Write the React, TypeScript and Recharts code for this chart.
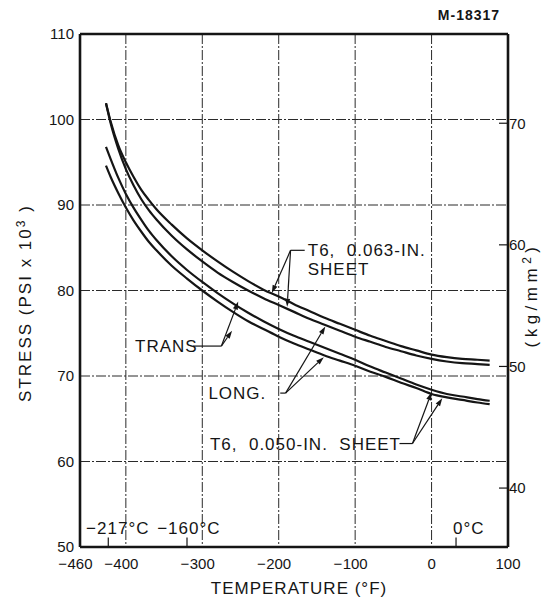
import React from "react";
import { LineChart, Line, XAxis, YAxis, CartesianGrid, ReferenceLine, ReferenceDot } from "recharts";

// temperature (°F) sampled along the curves
const tempF = [-426, -420, -410, -400, -390, -380, -370, -360, -340, -320, -300, -280, -260, -240, -220, -200, -180, -160, -140, -120, -100, -80, -60, -40, -20, 0, 20, 40, 60, 76];
// stress, psi x 10^3
const trans063 = [101.9, 99.8, 97.0, 95.0, 93.3, 91.8, 90.6, 89.5, 87.7, 86.1, 84.7, 83.4, 82.2, 81.1, 80.1, 79.3, 78.4, 77.6, 76.8, 76.1, 75.4, 74.7, 74.1, 73.5, 73.0, 72.5, 72.2, 72.0, 71.9, 71.8];
const long063 = [101.9, 99.6, 96.6, 94.2, 92.3, 90.7, 89.4, 88.3, 86.4, 84.8, 83.4, 82.1, 81.0, 80.0, 79.1, 78.3, 77.5, 76.7, 76.0, 75.3, 74.6, 74.0, 73.4, 72.9, 72.4, 72.0, 71.7, 71.5, 71.4, 71.3];
const trans050 = [96.8, 95.4, 93.2, 91.3, 89.7, 88.3, 87.0, 85.9, 84.0, 82.4, 81.0, 79.7, 78.5, 77.4, 76.4, 75.5, 74.7, 74.0, 73.3, 72.6, 71.9, 71.1, 70.4, 69.7, 69.0, 68.4, 67.9, 67.6, 67.3, 67.1];
const long050 = [94.6, 93.3, 91.4, 89.7, 88.2, 86.9, 85.7, 84.7, 82.9, 81.4, 80.0, 78.7, 77.5, 76.4, 75.5, 74.6, 73.8, 73.1, 72.4, 71.8, 71.2, 70.5, 69.9, 69.2, 68.6, 67.9, 67.5, 67.2, 66.9, 66.7];

const xTicks = [-460, -400, -300, -200, -100, 0, 100];
const yTicks = [50, 60, 70, 80, 90, 100, 110];
const kgTicks = [40, 50, 60, 70];
const KSI_PER_KG = 1.42233;

// annotation text, placed in data units (°F, ksi)
const notes = [
  { text: "T6,  0.063-IN.", f: -162, s: 84.7 },
  { text: "SHEET", f: -162, s: 82.5 },
  { text: "TRANS", f: -388, s: 73.5 },
  { text: "LONG.", f: -292, s: 68.0 },
  { text: "T6,  0.050-IN.  SHEET", f: -290, s: 62.1 },
  { text: "−217°C", f: -452, s: 52.2 },
  { text: "−160°C", f: -359, s: 52.2 },
  { text: "0°C", f: 28, s: 52.2 },
];
const leaders = [
  [-166, 84.7, -184.5, 84.7],
  [-312, 73.5, -275, 73.5],
  [-198, 68.0, -191, 68.0],
  [-42, 62.1, -25, 62.1],
];
const arrows = [
  [-184.5, 84.7, -209, 79.7],
  [-184.5, 84.7, -189, 78.1],
  [-275, 73.5, -253, 78.7],
  [-275, 73.5, -261, 75.3],
  [-191, 68.0, -139, 75.8],
  [-191, 68.0, -141, 72.2],
  [-25, 62.1, 0, 68.1],
  [-25, 62.1, 14, 67.4],
];
const celsiusMarks = [-423, -320, 32];

const data = tempF.map((t, i) => ({
  t,
  trans063: trans063[i],
  long063: long063[i],
  trans050: trans050[i],
  long050: long050[i],
}));

const font = "'Liberation Sans', Arial, sans-serif";
const ink = "#151515";

const LeftTick = (p: any) => (
  <text x={p.x - 6} y={p.y} dy="0.36em" textAnchor="end" fontSize={15} fontFamily={font} fill={ink}>
    {p.payload.value}
  </text>
);

const RightTick = (p: any) => (
  <g>
    <line x1={p.x - 9} x2={p.x} y1={p.y} y2={p.y} stroke={ink} strokeWidth={1.2} />
    <text x={p.x + 1} y={p.y} dy="0.36em" fontSize={15} fontFamily={font} fill={ink}>
      {p.payload.value}
    </text>
  </g>
);

// digits centred on the tick, the minus sign hangs to the left
const BottomTick = (p: any) => {
  const v = p.payload.value as number;
  const digits = `${Math.abs(v)}`;
  const half = (digits.length * 8.3) / 2;
  return (
    <g fontSize={15} fontFamily={font} fill={ink}>
      <text x={p.x} y={p.y + 11} dy="0.71em" textAnchor="middle">
        {digits}
      </text>
      {v < 0 && (
        <text x={p.x - half - 0.5} y={p.y + 11} dy="0.71em" textAnchor="end">
          −
        </text>
      )}
    </g>
  );
};

const arrowShape = (p: any) => {
  const { x1, y1, x2, y2 } = p;
  const a = Math.atan2(y2 - y1, x2 - x1);
  const L = 8;
  const w = 2.6;
  const bx = x2 - L * Math.cos(a);
  const by = y2 - L * Math.sin(a);
  const pts = `${x2},${y2} ${bx + w * Math.sin(a)},${by - w * Math.cos(a)} ${bx - w * Math.sin(a)},${by + w * Math.cos(a)}`;
  return (
    <g>
      <line x1={x1} y1={y1} x2={bx} y2={by} stroke={ink} strokeWidth={1.2} />
      <polygon points={pts} fill={ink} />
    </g>
  );
};

export default function App() {
  return (
    <div style={{ position: "absolute", left: 0, top: 0, width: 544, height: 600, background: "#fff" }}>
      <LineChart width={544} height={600} data={data} margin={{ top: 34, right: 0, bottom: 0, left: 0 }}>
        <CartesianGrid stroke="#2a2a2a" strokeWidth={1} strokeDasharray="10 2 2 2" />
        <XAxis
          dataKey="t"
          type="number"
          domain={[-460, 100]}
          ticks={xTicks}
          height={53}
          tickSize={0}
          tickMargin={0}
          tick={<BottomTick />}
          axisLine={{ stroke: ink, strokeWidth: 2.6 }}
          tickLine={false}
        />
        <YAxis
          type="number"
          domain={[50, 110]}
          ticks={yTicks}
          width={80}
          tickSize={0}
          tickMargin={0}
          tick={<LeftTick />}
          axisLine={{ stroke: ink, strokeWidth: 2.6 }}
          tickLine={false}
        />
        <YAxis
          yAxisId="kg"
          orientation="right"
          type="number"
          domain={[50 / KSI_PER_KG, 110 / KSI_PER_KG]}
          allowDataOverflow
          ticks={kgTicks}
          width={36}
          tickSize={0}
          tickMargin={0}
          tick={<RightTick />}
          axisLine={{ stroke: ink, strokeWidth: 2.6 }}
          tickLine={false}
        />
        <ReferenceLine y={110} stroke={ink} strokeWidth={2.6} />
        {celsiusMarks.map((c) => (
          <ReferenceLine key={`c${c}`} segment={[{ x: c, y: 50 }, { x: c, y: 51.1 }]} stroke={ink} strokeWidth={1.2} />
        ))}
        <Line dataKey="trans063" type="monotone" stroke={ink} strokeWidth={2.2} dot={false} isAnimationActive={false} />
        <Line dataKey="long063" type="monotone" stroke={ink} strokeWidth={2.2} dot={false} isAnimationActive={false} />
        <Line dataKey="trans050" type="monotone" stroke={ink} strokeWidth={2.2} dot={false} isAnimationActive={false} />
        <Line dataKey="long050" type="monotone" stroke={ink} strokeWidth={2.2} dot={false} isAnimationActive={false} />
        {leaders.map(([a, b, c, d], i) => (
          <ReferenceLine key={`l${i}`} segment={[{ x: a, y: b }, { x: c, y: d }]} stroke={ink} strokeWidth={1.2} />
        ))}
        {arrows.map(([a, b, c, d], i) => (
          <ReferenceLine key={`a${i}`} segment={[{ x: a, y: b }, { x: c, y: d }]} shape={arrowShape} />
        ))}
        {notes.map((n, i) => (
          <ReferenceDot
            key={`n${i}`}
            x={n.f}
            y={n.s}
            r={0}
            shape={(p: any) => (
              <text
                x={p.cx}
                y={p.cy}
                dy="0.36em"
                fontSize={17}
                letterSpacing={1}
                fontFamily={font}
                fill={ink}
                style={{ whiteSpace: "pre" }}
              >
                {n.text}
              </text>
            )}
          />
        ))}
      </LineChart>
      <div
        style={{
          position: "absolute",
          left: 25,
          top: 303,
          transform: "translate(-50%, -50%) rotate(-90deg)",
          whiteSpace: "nowrap",
          fontFamily: font,
          fontSize: 17,
          letterSpacing: 2,
          color: ink,
        }}
      >
        STRESS (PSI x 10<sup style={{ fontSize: 12 }}>3</sup> )
      </div>
      <div
        style={{
          position: "absolute",
          left: 531,
          top: 295,
          transform: "translate(-50%, -50%) rotate(-90deg)",
          whiteSpace: "nowrap",
          fontFamily: font,
          fontSize: 17,
          letterSpacing: 4.5,
          color: ink,
        }}
      >
        (kg/mm<sup style={{ fontSize: 12 }}>2</sup>)
      </div>
      <div
        style={{
          position: "absolute",
          left: 299,
          top: 589,
          transform: "translate(-50%, -50%)",
          whiteSpace: "nowrap",
          fontFamily: font,
          fontSize: 17,
          letterSpacing: 1,
          color: ink,
        }}
      >
        TEMPERATURE (°F)
      </div>
      <div
        style={{
          position: "absolute",
          left: 469,
          top: 15,
          transform: "translate(-50%, -50%)",
          whiteSpace: "nowrap",
          fontFamily: font,
          fontSize: 14,
          fontWeight: "bold",
          letterSpacing: 1,
          color: ink,
        }}
      >
        M-18317
      </div>
    </div>
  );
}
